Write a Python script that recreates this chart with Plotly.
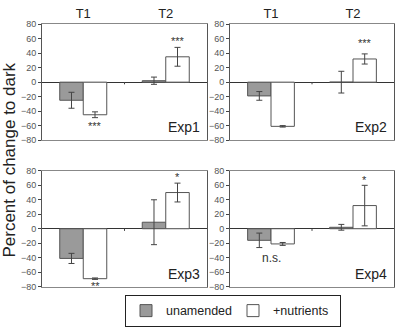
import plotly.graph_objects as go

times = ["T1", "T2"]
experiments = ["Exp1", "Exp2", "Exp3", "Exp4"]
unamended = {"Exp1": [-25, 2], "Exp2": [-19, 0], "Exp3": [-41, 9], "Exp4": [-16, 2]}
unamended_err = {"Exp1": [11, 5], "Exp2": [6, 15], "Exp3": [7, 31], "Exp4": [10, 4]}
nutrients = {"Exp1": [-45, 35], "Exp2": [-61, 32], "Exp3": [-69, 50], "Exp4": [-21, 32]}
nutrients_err = {"Exp1": [4, 13], "Exp2": [1, 7], "Exp3": [1, 13], "Exp4": [2, 28]}
# significance labels: (experiment, time index, series, y value, text)
signif = [
    ("Exp1", 0, 1, -60, "***"), ("Exp1", 1, 1, 57, "***"),
    ("Exp2", 1, 1, 54, "***"),
    ("Exp3", 0, 1, -79, "**"), ("Exp3", 1, 1, 72, "*"),
    ("Exp4", 0, None, -40, "n.s."), ("Exp4", 1, 1, 67, "*"),
]
y_ticks = [-80, -60, -40, -20, 0, 20, 40, 60, 80]

W, H = 398, 327
xdoms = [(42 / W, 207 / W), (230 / W, 394 / W)]
ydoms = [(1 - 140.7 / H, 1 - 20 / H), (1 - 293.3 / H, 1 - 172.7 / H)]
BARGAP = 0.43
bw = (1 - BARGAP) / 2

fig = go.Figure()
xpos = list(range(len(times)))
for i, exp in enumerate(experiments):
    r, c = divmod(i, 2)
    ax = "" if i == 0 else str(i + 1)
    fig.add_trace(go.Bar(
        x=xpos, y=unamended[exp], name="unamended", showlegend=(i == 0),
        marker=dict(color="#9a9a9a", line=dict(color="#555555", width=1)),
        error_y=dict(type="data", array=unamended_err[exp], color="#444444", thickness=1, width=3),
        xaxis="x" + ax, yaxis="y" + ax, offsetgroup="a", legendgroup="a"))
    fig.add_trace(go.Bar(
        x=xpos, y=nutrients[exp], name="+nutrients", showlegend=(i == 0),
        marker=dict(color="white", line=dict(color="#555555", width=1)),
        error_y=dict(type="data", array=nutrients_err[exp], color="#444444", thickness=1, width=3),
        xaxis="x" + ax, yaxis="y" + ax, offsetgroup="b", legendgroup="b"))
    top = r == 0
    fig.layout["xaxis" + ax] = dict(
        domain=xdoms[c], range=[-0.5, 1.5], anchor="y" + ax,
        side="top", tickvals=xpos if top else [], ticktext=times if top else [],
        showticklabels=top, ticks="", showline=True, mirror=True,
        linecolor="#888888", linewidth=1, showgrid=False, zeroline=False,
        tickfont=dict(size=13, color="#222222", family="Liberation Sans, Arial"))
    fig.layout["yaxis" + ax] = dict(
        domain=ydoms[r], range=[-80, 80], anchor="x" + ax,
        tickvals=y_ticks, ticks="outside", ticklen=3, tickcolor="#444444",
        showline=True, mirror=True, linecolor="#555555", linewidth=1,
        showgrid=False, zeroline=True, zerolinecolor="#333333", zerolinewidth=1,
        tickfont=dict(size=9, color="#555555", family="Liberation Sans, Arial"))
    # small category-boundary tick on zero line
    fig.add_shape(type="line", xref="x" + ax, yref="y" + ax, x0=0.5, x1=0.5, y0=0, y1=-3,
                  line=dict(color="#444444", width=1))
    fig.add_annotation(text=exp, xref=f"x{ax} domain", yref=f"y{ax} domain", x=0.97, y=0.11,
                       xanchor="right", yanchor="middle", showarrow=False,
                       font=dict(size=14, color="#222222", family="Liberation Sans, Arial"))

for exp, ti, si, yv, txt in signif:
    i = experiments.index(exp)
    ax = "" if i == 0 else str(i + 1)
    xv = ti if si is None else ti + (-bw / 2 if si == 0 else bw / 2)
    fig.add_annotation(text=txt, x=xv, y=yv, xref="x" + ax, yref="y" + ax, showarrow=False,
                       font=dict(size=12 if txt == "n.s." else 11, color="#333333",
                                 family="Liberation Sans, Arial"))

fig.add_annotation(text="Percent of change to dark", textangle=-90, xref="paper", yref="paper",
                   x=10 / W, y=1 - 162 / H, xanchor="center", yanchor="middle", showarrow=False,
                   font=dict(size=17, color="#222222", family="Liberation Sans, Arial"))

fig.update_layout(
    width=W, height=H, margin=dict(l=0, r=0, t=0, b=0),
    paper_bgcolor="white", plot_bgcolor="white",
    barmode="group", bargap=BARGAP, bargroupgap=0,
    legend=dict(orientation="h", x=125 / W, y=1 - 302 / H, xanchor="left", yanchor="top",
                bordercolor="#222222", borderwidth=1, itemwidth=30, tracegroupgap=0,
                entrywidth=62, entrywidthmode="pixels",
                font=dict(size=12.5, color="#222222", family="Liberation Sans, Arial"),
                traceorder="normal"),
)
fig.write_html("out.html")
